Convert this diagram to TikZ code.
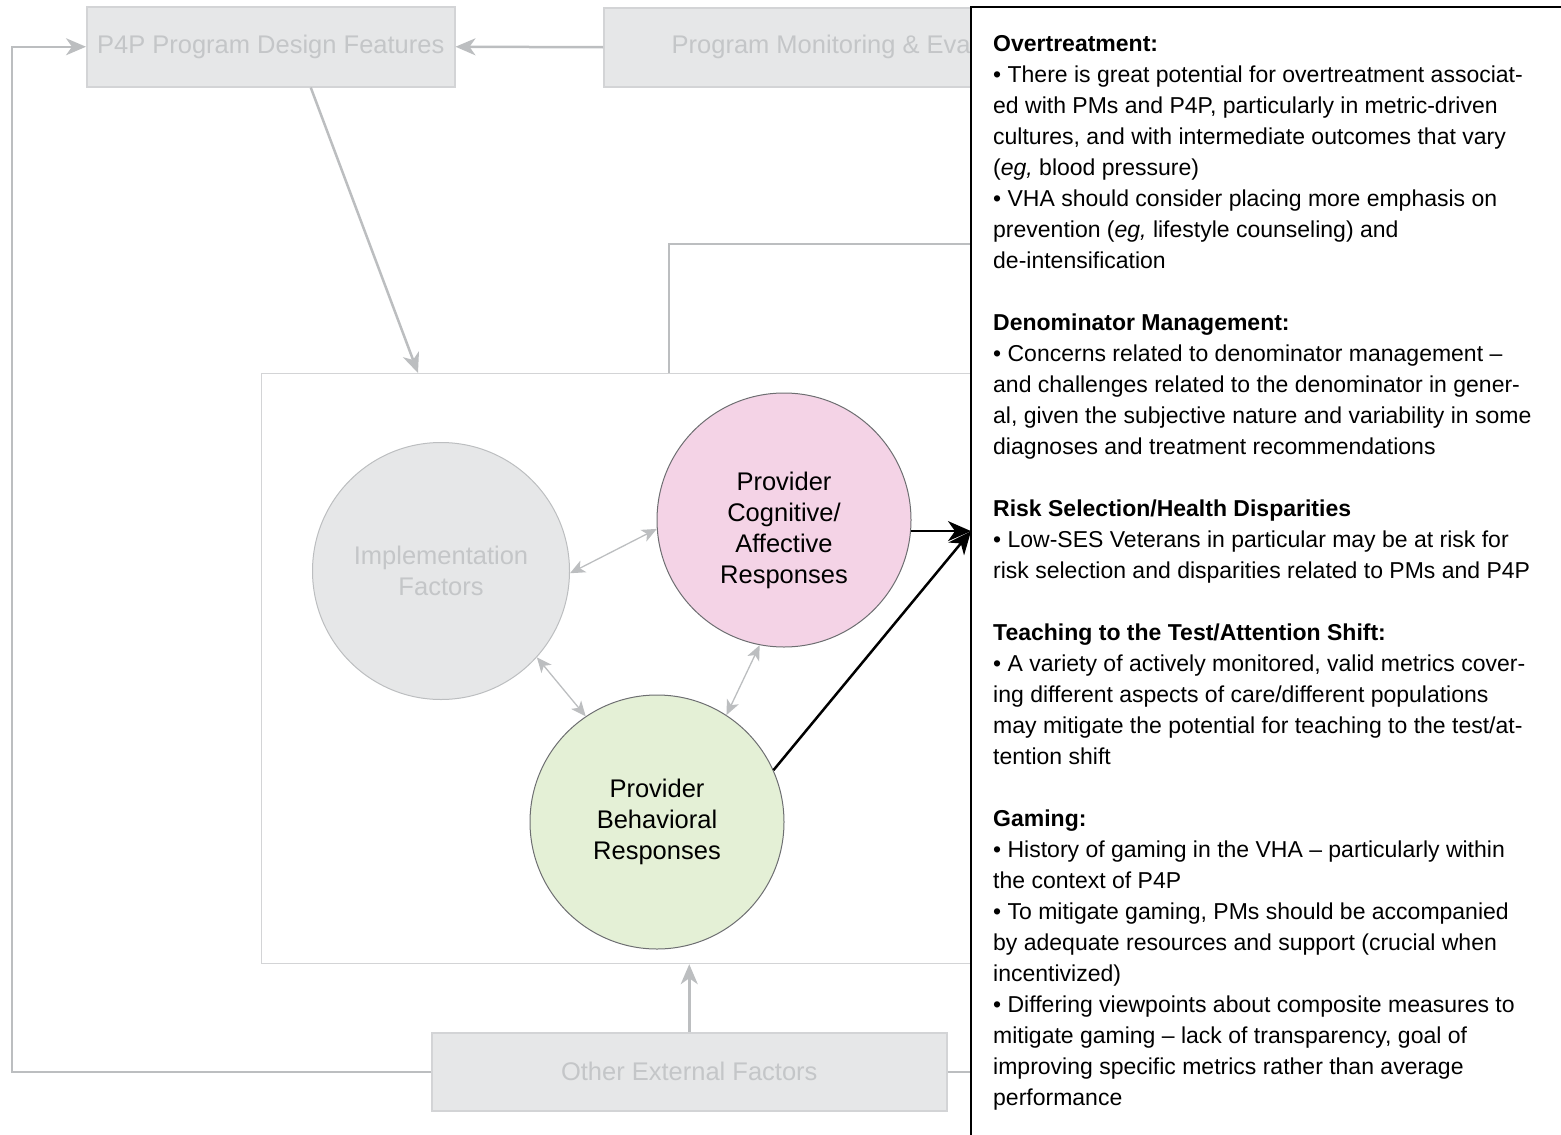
\documentclass[tikz,border=0pt]{standalone}
\usepackage{fontspec}
\setmainfont{Liberation Sans}
\usetikzlibrary{arrows.meta, positioning}
\definecolor{boxFill}{HTML}{E6E7E8}
\definecolor{boxEdge}{HTML}{D3D4D6}
\definecolor{fadeText}{HTML}{C4C6C8}
\definecolor{linkGray}{HTML}{BCBEC0}
\definecolor{circEdge}{HTML}{6D6E71}
\definecolor{cognPink}{HTML}{F4D3E6}
\definecolor{behavGreen}{HTML}{E4F0D6}

\begin{document}
\begin{tikzpicture}[x=1pt, y=-1pt, font=\fontsize{25.5}{31}\selectfont,
  fadebox/.style={draw=boxEdge, line width=1.5pt, fill=boxFill, text=fadeText,
    minimum height=80pt, inner sep=0pt},
  factor/.style={circle, minimum size=254pt, inner sep=0pt, align=center, line width=1pt},
  link/.style={draw=linkGray, line width=2.5pt, -{Stealth[length=20pt, width=17pt, inset=6pt]}},
  fadeline/.style={draw=linkGray, line width=2.5pt},
  pair/.style={draw=linkGray, line width=1.3pt,
    {Stealth[length=15pt, width=13pt, inset=4pt]}-{Stealth[length=15pt, width=13pt, inset=4pt]}},
  drive/.style={draw=black, line width=2.5pt, -{Stealth[length=23pt, width=20pt, inset=7pt]}}]
  \clip (0,0) rectangle (1561,1135);

  % boxes of the framework
  \node[fadebox, minimum width=368pt, anchor=north west] (design) at (86,6) {P4P Program Design Features};
  \begin{scope}
    \clip (0,0) rectangle (971,1135);
    \node[fadebox, minimum width=510pt, minimum height=79pt, anchor=north west] (monitor) at (603,7) {Program Monitoring \& Evaluation};
  \end{scope}
  \node[draw=boxEdge, line width=1.2pt, minimum width=760pt, minimum height=590pt, anchor=north west] (frame) at (261,373) {};
  \node[fadebox, minimum width=515pt, minimum height=78pt, anchor=north west] (external) at (431,1032) {Other External Factors};

  % three responses
  \node[factor, fill=boxFill, draw=linkGray, text=fadeText, minimum size=257pt] (impl) at (441,571) {Implementation\\Factors};
  \node[factor, fill=cognPink, draw=circEdge, text height=131.6pt] (cogn) at (784,520) {Provider\\Cognitive/\\Affective\\Responses};
  \node[factor, fill=behavGreen, draw=circEdge] (behav) at (657,822) {Provider\\Behavioral\\Responses};

  % gray links
  \coordinate (loopx) at (12,0);
  \coordinate (fbend) at (1000,244);
  \draw[link] (monitor.west) -- (design.east);
  \draw[link] (external.west) -- (external.west -| loopx) |- (design.west);
  \draw[link] ([xshift=40pt]design.south) -- ([xshift=157pt]frame.north west);
  \draw[fadeline] ([xshift=408pt]frame.north west) |- (fbend);
  \draw[link] (external.north) -- (external.north |- frame.south);
  \draw[fadeline] (external.east) -- ++(40,0);
  \draw[pair] (impl.-1) -- (cogn.184);
  \draw[pair] (impl.-42) -- (behav.124);
  \draw[pair] (cogn.-101) -- (behav.57);

  % notes panel
  \node[fill=white, minimum width=620pt, minimum height=1140pt, inner sep=0pt, anchor=north west] (panel) at (971,7) {};
  \coordinate (hit) at (cogn.-5 -| panel.west);
  \draw[drive] (cogn.-5) -- (hit);
  \draw[drive] (behav.24) -- (hit);
  \draw[line width=2pt] (panel.south west) -- (panel.north west) -- (panel.north east);
  \node[anchor=north west, align=left, inner sep=0pt, font=\fontsize{23}{31}\selectfont] (notes) at (993,35) {%
\textbf{Overtreatment:}\\
• There is great potential for overtreatment associat-\\
ed with PMs and P4P, particularly in metric-driven\\
cultures, and with intermediate outcomes that vary\\
(\textit{eg,} blood pressure)\\
• VHA should consider placing more emphasis on\\
prevention (\textit{eg,} lifestyle counseling) and\\
de-intensification\\[31pt]
\textbf{Denominator Management:}\\
• Concerns related to denominator management –\\
and challenges related to the denominator in gener-\\
al, given the subjective nature and variability in some\\
diagnoses and treatment recommendations\\[31pt]
\textbf{Risk Selection/Health Disparities}\\
• Low-SES Veterans in particular may be at risk for\\
risk selection and disparities related to PMs and P4P\\[31pt]
\textbf{Teaching to the Test/Attention Shift:}\\
• A variety of actively monitored, valid metrics cover-\\
ing different aspects of care/different populations\\
may mitigate the potential for teaching to the test/at-\\
tention shift\\[31pt]
\textbf{Gaming:}\\
• History of gaming in the VHA – particularly within\\
the context of P4P\\
• To mitigate gaming, PMs should be accompanied\\
by adequate resources and support (crucial when\\
incentivized)\\
• Differing viewpoints about composite measures to\\
mitigate gaming – lack of transparency, goal of\\
improving specific metrics rather than average\\
performance};
\end{tikzpicture}
\end{document}
